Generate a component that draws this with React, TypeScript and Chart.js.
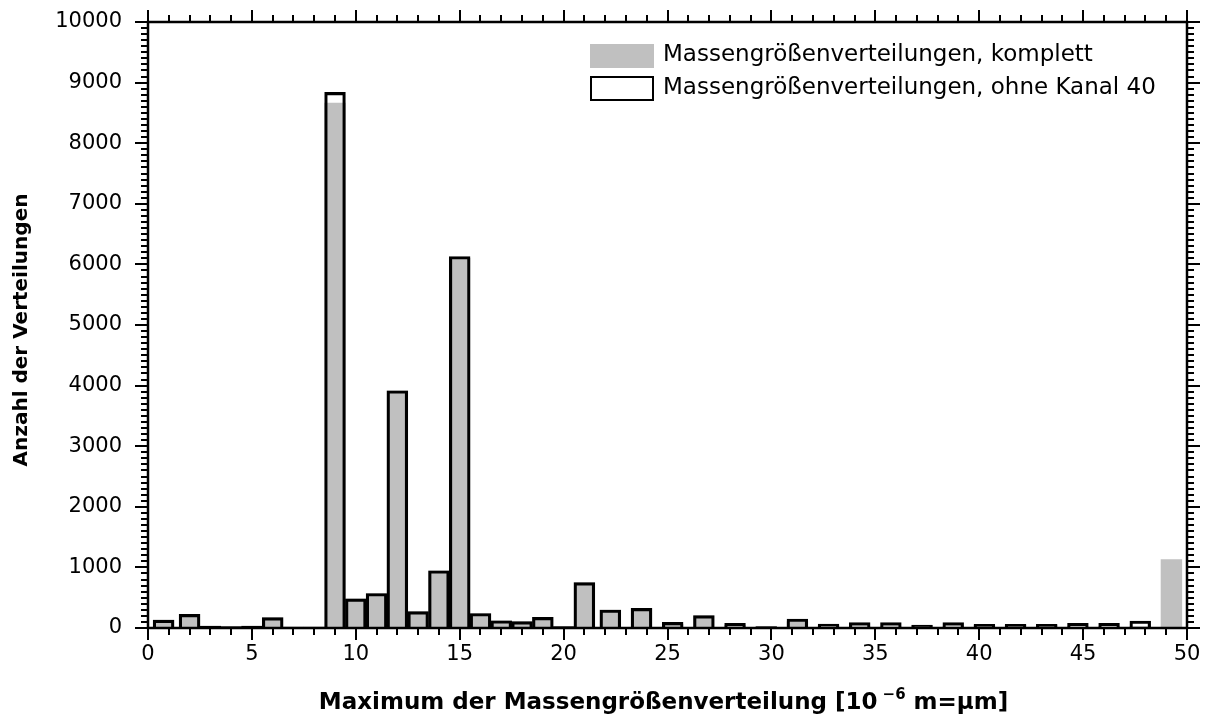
import React, { useEffect, useRef } from 'react';
import { Chart, registerables } from 'chart.js';

Chart.register(...registerables);

// Bin centres on the x axis (µm)
const binCenters = [
  0.75, 2, 3, 4, 5, 6, 7, 8, 9, 10, 11, 12, 13, 14, 15, 16, 17, 18, 19, 20, 21,
  22.25, 23.75, 25.25, 26.75, 28.25, 29.75, 31.25, 32.75, 34.25, 35.75, 37.25,
  38.75, 40.25, 41.75, 43.25, 44.75, 46.25, 47.75, 49.25,
];

// "komplett" (grey filled bars)
const completeCounts = [
  130, 225, 30, 25, 30, 170, 15, 15, 8660, 480, 570, 3915, 270, 945, 6100, 240,
  120, 104, 176, 25, 748, 297, 325, 60, 203, 45, 22, 105, 38, 20, 20, 40, 20, 45,
  50, 45, 20, 20, 20, 1130,
];

// "ohne Kanal 40" (outlined bars)
const withoutChannel40Counts = [
  130, 225, 30, 25, 30, 170, 15, 15, 8840, 480, 570, 3915, 270, 945, 6130, 240,
  120, 104, 176, 25, 748, 297, 325, 94, 203, 77, 22, 148, 66, 88, 88, 50, 88, 60,
  60, 60, 77, 77, 115, 0,
];

const labelComplete = 'Massengrößenverteilungen, komplett';
const labelWithout = 'Massengrößenverteilungen, ohne Kanal 40';
const xTitleMain = 'Maximum der Massengrößenverteilung [10';
const xTitleSup = '−6';
const xTitleEnd = ' m=µm]';
const yTitle = 'Anzahl der Verteilungen';

const X_MIN = 0;
const X_MAX = 50;
const X_MAJOR = 5;
const X_MINOR = 1;
const Y_MIN = 0;
const Y_MAX = 10000;
const Y_MAJOR = 1000;
const Y_MINOR = 100;

const FONT = '"DejaVu Sans", Verdana, sans-serif';

const framePlugin = {
  id: 'frameAndDecor',
  afterDraw(chart: any) {
    const ctx = chart.ctx as CanvasRenderingContext2D;
    const { left, right, top, bottom } = chart.chartArea;
    const xs = chart.scales.x;
    const ys = chart.scales.y;
    ctx.save();
    ctx.strokeStyle = '#000';
    ctx.lineWidth = 2;
    ctx.lineCap = 'butt';
    const line = (x1: number, y1: number, x2: number, y2: number) => {
      ctx.beginPath();
      ctx.moveTo(x1, y1);
      ctx.lineTo(x2, y2);
      ctx.stroke();
    };
    for (let v = X_MIN; v <= X_MAX + 1e-9; v += X_MINOR) {
      const px = Math.round(xs.getPixelForValue(v));
      const len = Math.abs(v % X_MAJOR) < 1e-9 ? 12 : 7;
      line(px, bottom, px, bottom + len);
      line(px, top, px, top - len);
    }
    for (let v = Y_MIN; v <= Y_MAX + 1e-9; v += Y_MINOR) {
      const py = Math.round(ys.getPixelForValue(v));
      const len = Math.abs(v % Y_MAJOR) < 1e-9 ? 13 : 7;
      line(left, py, left - len, py);
      line(right, py, right + len, py);
    }
    ctx.lineWidth = 2.5;
    ctx.strokeRect(left, top, right - left, bottom - top);

    // Legend
    const ds0 = chart.data.datasets[0];
    const ds1 = chart.data.datasets[1];
    const bx = right - 597;
    ctx.fillStyle = ds0.backgroundColor;
    ctx.fillRect(bx, top + 22, 64, 24);
    ctx.lineWidth = 2;
    ctx.strokeStyle = ds1.borderColor;
    ctx.strokeRect(bx + 1, top + 55, 62, 23);
    ctx.fillStyle = '#000';
    ctx.font = `23px ${FONT}`;
    ctx.textBaseline = 'middle';
    ctx.textAlign = 'left';
    ctx.fillText(ds0.label, bx + 73, top + 33);
    ctx.fillText(ds1.label, bx + 73, top + 66);

    // X title with superscript
    const big = `bold 23px ${FONT}`;
    const small = `bold 15px ${FONT}`;
    ctx.font = big;
    const w1 = ctx.measureText(xTitleMain).width;
    ctx.font = small;
    const w2 = ctx.measureText(xTitleSup).width + 5;
    ctx.font = big;
    const w3 = ctx.measureText(xTitleEnd).width;
    const total = w1 + w2 + w3;
    const cx = (left + right) / 2 - 4;
    let tx = cx - total / 2;
    const ty = chart.height - 18;
    ctx.textBaseline = 'alphabetic';
    ctx.fillText(xTitleMain, tx, ty);
    tx += w1 + 5;
    ctx.font = small;
    ctx.fillText(xTitleSup, tx, ty - 10);
    tx += w2 - 5;
    ctx.font = big;
    ctx.fillText(xTitleEnd, tx, ty);

    // Y title
    ctx.save();
    ctx.translate(22, (top + bottom) / 2 + 5);
    ctx.rotate(-Math.PI / 2);
    ctx.textAlign = 'center';
    ctx.textBaseline = 'middle';
    ctx.font = `bold 20px ${FONT}`;
    ctx.fillText(yTitle, 0, 0);
    ctx.restore();

    ctx.restore();
  },
};

export default function App() {
  const canvasRef = useRef<HTMLCanvasElement | null>(null);

  useEffect(() => {
    document.body.style.margin = '0';
    const canvas = canvasRef.current;
    if (!canvas) return;
    const chart = new Chart(canvas, {
      type: 'bar',
      data: {
        datasets: [
          {
            label: labelComplete,
            data: binCenters.map((x, i) => ({ x, y: completeCounts[i] })),
            backgroundColor: '#c0c0c0',
            borderWidth: 0,
            grouped: false,
            barPercentage: 1,
            categoryPercentage: 1,
            order: 2,
          } as any,
          {
            label: labelWithout,
            data: binCenters.map((x, i) => ({ x, y: withoutChannel40Counts[i] })),
            backgroundColor: 'rgba(0,0,0,0)',
            borderColor: '#000',
            borderWidth: 2.5,
            grouped: false,
            barPercentage: 1,
            categoryPercentage: 1,
            order: 1,
          } as any,
        ],
      },
      options: {
        responsive: false,
        animation: false,
        devicePixelRatio: 1,
        layout: { padding: { left: 0, right: 25, top: 22, bottom: 0 } },
        plugins: {
          legend: { display: false },
          tooltip: { enabled: false },
        },
        scales: {
          x: {
            type: 'linear',
            min: X_MIN,
            max: X_MAX,
            offset: false,
            grid: { display: false },
            border: { display: false },
            ticks: {
              stepSize: X_MAJOR,
              color: '#000',
              font: { family: FONT, size: 21 },
              padding: 6,
              maxRotation: 0,
              autoSkip: false,
              callback: (v: any) => String(v),
            },
            afterFit: (s: any) => {
              s.height = 99;
              s.paddingLeft = 0;
              s.paddingRight = 0;
            },
          },
          y: {
            type: 'linear',
            min: Y_MIN,
            max: Y_MAX,
            grid: { display: false },
            border: { display: false },
            ticks: {
              stepSize: Y_MAJOR,
              color: '#000',
              font: { family: FONT, size: 21 },
              padding: 18,
              callback: (v: any) => String(v),
            },
            afterFit: (s: any) => {
              s.width = 148;
              s.paddingTop = 0;
              s.paddingBottom = 0;
            },
          },
        },
      } as any,
      plugins: [framePlugin],
    });
    return () => chart.destroy();
  }, []);

  return (
    <div style={{ position: 'absolute', left: 0, top: 0, width: 1212, height: 727, background: '#fff' }}>
      <canvas ref={canvasRef} width={1212} height={727} />
    </div>
  );
}
